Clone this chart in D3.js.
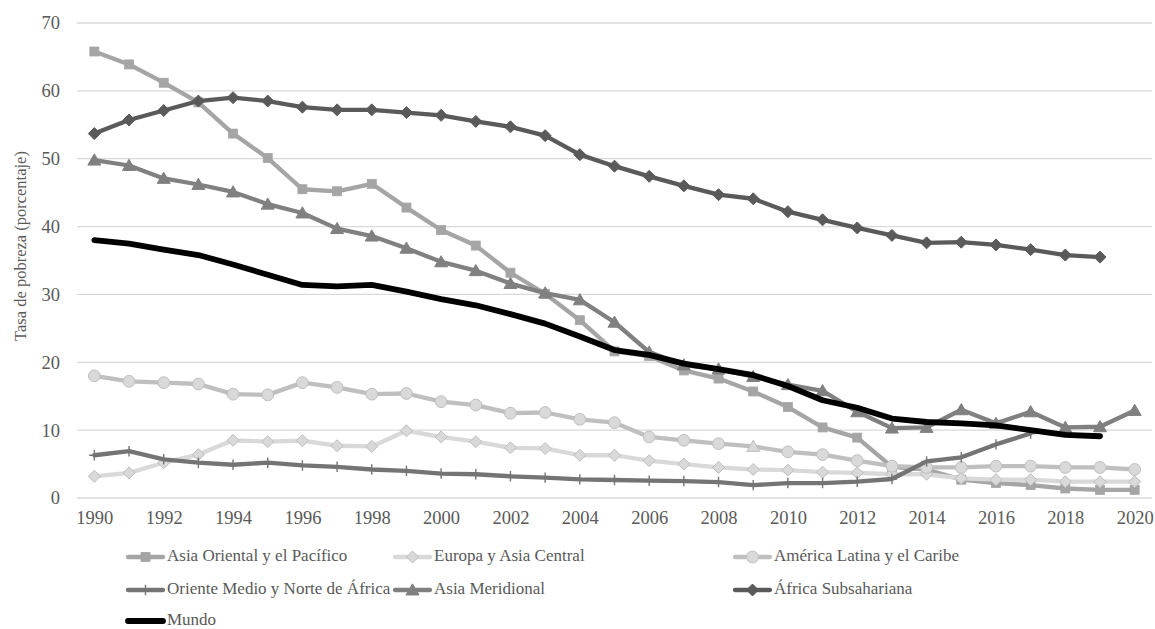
<!DOCTYPE html>
<html>
<head>
<meta charset="utf-8">
<script src="https://cdn.jsdelivr.net/npm/d3@7"></script>
<style>
  html, body { margin: 0; padding: 0; background: #ffffff; }
  svg { display: block; }
  svg text { font-family: 'Liberation Serif', 'Times New Roman', Times, 'DejaVu Serif', serif !important; fill: #595959; }
</style>
</head>
<body>
<svg id="chart" width="1155" height="629"></svg>
<script>
// Poverty rate by region, 1990–2020 (percent)
const years = d3.range(1990, 2021);
const yTicks = [0, 10, 20, 30, 40, 50, 60, 70];
const xTickYears = d3.range(1990, 2021, 2);

const asiaOriental = [65.8, 63.9, 61.2, 58.3, 53.7, 50.1, 45.5, 45.2, 46.3, 42.8, 39.5, 37.2, 33.2, 30.1, 26.2, 21.6, 20.9, 18.8, 17.6, 15.7, 13.4, 10.4, 8.9, 4.6, 4.2, 2.7, 2.2, 1.9, 1.4, 1.2, 1.2];
const europaAsiaCentral = [3.2, 3.7, 5.2, 6.4, 8.5, 8.3, 8.45, 7.7, 7.6, 9.9, 9.0, 8.3, 7.4, 7.3, 6.3, 6.3, 5.5, 5.0, 4.5, 4.2, 4.1, 3.8, 3.7, 3.5, 3.5, 2.9, 2.7, 2.7, 2.4, 2.4, 2.4];
const americaLatina = [18.0, 17.2, 17.0, 16.8, 15.3, 15.2, 17.0, 16.3, 15.3, 15.4, 14.2, 13.7, 12.5, 12.6, 11.6, 11.1, 9.0, 8.5, 8.0, 7.6, 6.8, 6.4, 5.5, 4.7, 4.5, 4.5, 4.7, 4.7, 4.5, 4.5, 4.2];
const orienteMedio = [6.3, 6.9, 5.7, 5.2, 4.9, 5.2, 4.8, 4.6, 4.2, 4.0, 3.6, 3.5, 3.2, 3.0, 2.75, 2.65, 2.55, 2.5, 2.35, 1.9, 2.2, 2.2, 2.4, 2.8, 5.4, 6.0, 7.9, 9.5, null, null, null];
const asiaMeridional = [49.8, 49.0, 47.1, 46.2, 45.1, 43.3, 42.0, 39.7, 38.6, 36.8, 34.8, 33.5, 31.6, 30.2, 29.2, 25.9, 21.5, 19.6, 19.0, 17.9, 16.7, 15.8, 12.7, 10.3, 10.4, 13.0, 11.0, 12.7, 10.4, 10.5, 12.9];
const africaSubsahariana = [53.7, 55.7, 57.1, 58.5, 59.0, 58.5, 57.6, 57.2, 57.2, 56.8, 56.4, 55.5, 54.7, 53.4, 50.6, 48.9, 47.4, 46.0, 44.7, 44.1, 42.2, 41.0, 39.8, 38.7, 37.6, 37.7, 37.3, 36.6, 35.8, 35.5, null];
const mundo = [38.0, 37.5, 36.6, 35.8, 34.4, 32.9, 31.4, 31.2, 31.4, 30.4, 29.3, 28.4, 27.1, 25.7, 23.8, 21.8, 21.1, 19.8, 19.0, 18.1, 16.5, 14.4, 13.3, 11.7, 11.2, 11.0, 10.7, 10.0, 9.3, 9.1, null];

// One point of the Latin America series carries a triangle marker
const latamTriangleYears = [2009];

const seriesNames = [
  "Asia Oriental y el Pacífico",
  "Europa y Asia Central",
  "América Latina y el Caribe",
  "Oriente Medio y Norte de África",
  "Asia Meridional",
  "África Subsahariana",
  "Mundo"
];
const seriesValues = [asiaOriental, europaAsiaCentral, americaLatina, orienteMedio, asiaMeridional, africaSubsahariana, mundo];

const styles = [
  { line: "#a5a5a5", width: 4.3, marker: "square",   fill: "#a5a5a5", stroke: "#a5a5a5" },
  { line: "#d9d9d9", width: 4.3, marker: "diamond",  fill: "#d9d9d9", stroke: "#bdbdbd" },
  { line: "#bfbfbf", width: 4.3, marker: "circle",   fill: "#d9d9d9", stroke: "#bfbfbf" },
  { line: "#747474", width: 4.3, marker: "plus",     fill: "none",    stroke: "#747474" },
  { line: "#808080", width: 4.3, marker: "triangle", fill: "#808080", stroke: "#808080" },
  { line: "#5a5a5a", width: 4.3, marker: "diamond",  fill: "#5a5a5a", stroke: "#5a5a5a" },
  { line: "#000000", width: 5.8, marker: null }
];

const FONT = "'Liberation Serif', 'Times New Roman', Times, 'DejaVu Serif', serif";

const svg = d3.select("#chart");
const plot = { left: 77, right: 1152, top: 23, bottom: 498 };

const x = d3.scalePoint().domain(years).range([plot.left, plot.right]).padding(0.5);
const y = d3.scaleLinear().domain([0, 70]).range([plot.bottom, plot.top]);

// Horizontal gridlines
svg.append("g")
  .selectAll("line")
  .data(yTicks)
  .join("line")
  .attr("x1", plot.left).attr("x2", plot.right)
  .attr("y1", d => y(d)).attr("y2", d => y(d))
  .attr("stroke", "#d9d9d9").attr("stroke-width", 1.3);

// Y axis labels
const yAxis = svg.append("g")
  .attr("transform", `translate(${plot.left - 17},0)`)
  .call(d3.axisLeft(y).tickValues(yTicks).tickSize(0).tickPadding(0));
yAxis.attr("font-family", FONT).attr("font-size", 18.5);
yAxis.select(".domain").remove();
yAxis.selectAll("text").attr("fill", "#595959");

// X axis labels
const xAxis = svg.append("g")
  .attr("transform", `translate(0,${plot.bottom + 13})`)
  .call(d3.axisBottom(x).tickValues(xTickYears).tickSize(0).tickPadding(0).tickFormat(d3.format("d")));
xAxis.attr("font-family", FONT).attr("font-size", 18.5);
xAxis.select(".domain").remove();
xAxis.selectAll("text").attr("dy", "0.71em").attr("fill", "#595959");

// Y axis title
svg.append("text")
  .attr("transform", `translate(22,246) rotate(-90)`)
  .attr("text-anchor", "middle")
  .attr("dominant-baseline", "middle")
  .attr("font-family", FONT)
  .attr("font-size", 16.5)
  .text("Tasa de pobreza (porcentaje)");

// Marker drawing
function drawMarker(g, shape, cx, cy, st) {
  if (shape === "square") {
    g.append("rect").attr("x", cx - 4.5).attr("y", cy - 4.5).attr("width", 9).attr("height", 9)
      .attr("fill", st.fill).attr("stroke", st.stroke).attr("stroke-width", 0.8);
  } else if (shape === "diamond") {
    const r = 6;
    g.append("path").attr("d", `M${cx},${cy - r}L${cx + r},${cy}L${cx},${cy + r}L${cx - r},${cy}Z`)
      .attr("fill", st.fill).attr("stroke", st.stroke).attr("stroke-width", 1);
  } else if (shape === "circle") {
    g.append("circle").attr("cx", cx).attr("cy", cy).attr("r", 5.9)
      .attr("fill", st.fill).attr("stroke", st.stroke).attr("stroke-width", 1);
  } else if (shape === "triangle") {
    const h = 6.2;
    g.append("path").attr("d", `M${cx},${cy - h}L${cx + h * 1.05},${cy + h * 0.8}L${cx - h * 1.05},${cy + h * 0.8}Z`)
      .attr("fill", st.fill).attr("stroke", st.stroke).attr("stroke-width", 1);
  } else if (shape === "plus") {
    g.append("path").attr("d", `M${cx},${cy - 5.2}L${cx},${cy + 5.2}M${cx - 5.2},${cy}L${cx + 5.2},${cy}`)
      .attr("fill", "none").attr("stroke", st.stroke).attr("stroke-width", 1.4);
  }
}

const line = d3.line()
  .defined(d => d.v != null)
  .x(d => x(d.year))
  .y(d => y(d.v));

const seriesG = svg.append("g");
seriesValues.forEach((vals, i) => {
  const st = styles[i];
  const pts = years.map((yr, k) => ({ year: yr, v: vals[k] }));
  const g = seriesG.append("g");
  g.append("path")
    .datum(pts)
    .attr("d", line)
    .attr("fill", "none")
    .attr("stroke", st.line)
    .attr("stroke-width", st.width)
    .attr("stroke-linejoin", "round")
    .attr("stroke-linecap", "round");
  if (st.marker) {
    pts.filter(p => p.v != null).forEach(p => {
      let shape = st.marker;
      if (i === 2 && latamTriangleYears.includes(p.year)) shape = "triangle";
      drawMarker(g, shape, x(p.year), y(p.v), st);
    });
  }
});

// Legend
const legendCols = [128, 395, 735];
const legendRows = [557, 590, 621];
const legend = svg.append("g");
seriesNames.forEach((name, i) => {
  const st = styles[i];
  const lx = legendCols[i % 3];
  const ly = legendRows[Math.floor(i / 3)];
  const g = legend.append("g");
  g.append("line")
    .attr("x1", lx).attr("x2", lx + 35)
    .attr("y1", ly).attr("y2", ly)
    .attr("stroke", st.line).attr("stroke-width", st.width)
    .attr("stroke-linecap", "round");
  if (st.marker) drawMarker(g, st.marker, lx + 17.5, ly, st);
  g.append("text")
    .attr("x", lx + 39).attr("y", ly)
    .attr("dominant-baseline", "middle")
    .attr("font-family", FONT)
    .attr("font-size", 17)
    .text(name);
});
</script>
</body>
</html>
